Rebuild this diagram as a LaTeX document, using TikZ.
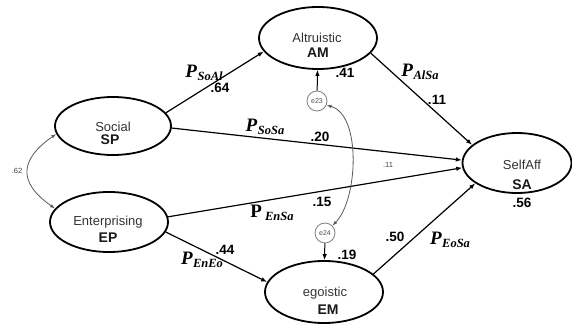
\documentclass[tikz,border=0pt]{standalone}
\usepackage{fontspec}
\setmainfont{Liberation Sans}
\newfontfamily\pfont{Liberation Serif}
\usetikzlibrary{shapes.geometric,arrows.meta}
\newcommand\Plab[3]{{\pfont\bfseries\fontsize{19}{19}\selectfont #3P\kern#2\raisebox{-3.5pt}{\itshape\fontsize{12.5}{12.5}\selectfont #1}}}
\begin{document}
\begin{tikzpicture}[x=1pt,y=1pt,
 lat/.style={draw,ellipse,line width=1.8pt,inner sep=0pt},
 err/.style={draw=gray,circle,line width=0.8pt,minimum size=20pt,inner sep=0pt,font=\fontsize{7}{7}\selectfont,text=black!70},
 pth/.style={line width=1.2pt,-{Latex[length=6pt,width=4.5pt]}},
 cov/.style={draw=gray!70!black,line width=0.8pt,{Latex[length=5pt,width=3.5pt]}-{Latex[length=5pt,width=3.5pt]}},
 nm/.style={font=\fontsize{13}{13}\selectfont,text=black!80,inner sep=0pt},
 ab/.style={font=\bfseries\fontsize{14}{14}\selectfont,text=black!90,inner sep=0pt},
 coef/.style={font=\bfseries\fontsize{13.5}{13.5}\selectfont,inner sep=0pt},
 sm/.style={font=\fontsize{7.5}{7.5}\selectfont,text=black!75,inner sep=0pt},
 plab/.style={inner sep=0pt}
]
\useasboundingbox (0,0) rectangle (572,324);
% latent variables
\node[lat,minimum width=116pt,minimum height=58pt] (SP) at (113,198) {};
\node[lat,minimum width=118pt,minimum height=62pt] (AM) at (318,286) {};
\node[lat,minimum width=109pt,minimum height=60pt] (SA) at (517,161) {};
\node[lat,minimum width=118pt,minimum height=60pt] (EP) at (109,102) {};
\node[lat,minimum width=118pt,minimum height=62pt] (EM) at (324,32) {};
% names
\node[nm] (SPn) at (113,197) {Social};
\node[ab] (SPa) at (110,184) {SP};
\node[nm] (AMn) at (317,286) {Altruistic};
\node[ab] (AMa) at (318,271) {AM};
\node[nm] (SAn) at (522,159) {SelfAff};
\node[ab] (SAa) at (522,139) {SA};
\node[nm] (EPn) at (108,102) {Enterprising};
\node[ab] (EPa) at (108,86) {EP};
\node[nm] (EMn) at (325,31) {egoistic};
\node[ab] (EMa) at (328,14) {EM};
% errors
\node[err] (e23) at (317,223) {e23};
\node[err] (e24) at (325,91) {e24};
% paths
\draw[pth] (SP.14) -- (AM.194);
\draw[pth] (SP.358) -- (SA.177);
\draw[pth] (AM.344) -- (SA.158);
\draw[pth] (EP.5) -- (SA.185);
\draw[pth] (EP.350) -- (EM.170);
\draw[pth] (EM.20) -- (SA.206);
\draw[pth,line width=1pt] (e23) -- (AM);
\draw[pth,line width=1pt] (e24) -- (EM);
% covariances
\draw[cov] (SP.188) to[out=215,in=145,looseness=1.55] (EP.166);
\draw[cov] (e23.336) to[out=-15,in=45,looseness=0.77] (e24.45);
% coefficients
\node[plab] (l1) at (204,251) {\Plab{SoAl}{0.5pt}{\itshape}};
\node[coef] (c1) at (220,236) {.64};
\node[plab] (l2) at (265,197) {\Plab{SoSa}{0.5pt}{\itshape}};
\node[coef] (c2) at (320,187) {.20};
\node[plab] (l3) at (420,252) {\Plab{AlSa}{0.5pt}{\itshape}};
\node[coef] (c3) at (437,224) {.11};
\node[coef] (c4) at (345,251) {.41};
\node[sm] (c5) at (388,159) {.11};
\node[plab] (l4) at (272,111) {\Plab{EnSa}{3pt}{}};
\node[coef] (c6) at (322,122) {.15};
\node[coef] (c7) at (225,74) {.44};
\node[plab] (l5) at (202,64) {\Plab{EnEo}{0.5pt}{\itshape}};
\node[coef] (c8) at (347,69) {.19};
\node[coef] (c9) at (395,87) {.50};
\node[plab] (l6) at (450,84) {\Plab{EoSa}{0.5pt}{\itshape}};
\node[coef] (c10) at (522,121) {.56};
\node[sm] (c11) at (17,153) {.62};
\end{tikzpicture}
\end{document}
